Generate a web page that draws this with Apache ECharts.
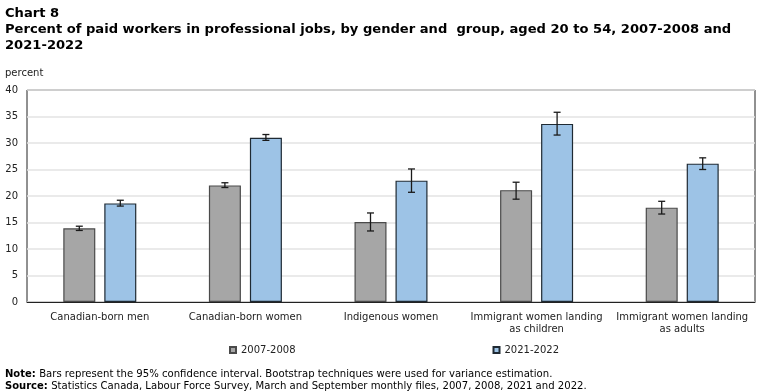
<!DOCTYPE html>
<html><head><meta charset="utf-8">
<script src="https://cdn.jsdelivr.net/npm/echarts@6/dist/echarts.min.js"></script>
<style>html,body{margin:0;padding:0;background:#fff}#c{width:768px;height:392px}</style>
</head><body><div id="c"></div>
<script>
const categories = ['Canadian-born men', 'Canadian-born women', 'Indigenous women', 'Immigrant women landing\nas children', 'Immigrant women landing\nas adults'];
const seriesNames = ['2007-2008', '2021-2022'];
const values2007 = [13.9, 22.0, 15.1, 21.1, 17.8];
const low2007 = [13.5, 21.6, 13.4, 19.4, 16.6];
const high2007 = [14.3, 22.5, 16.8, 22.6, 19.0];
const values2021 = [18.6, 31.0, 22.9, 33.6, 26.1];
const low2021 = [18.1, 30.5, 20.7, 31.5, 25.0];
const high2021 = [19.2, 31.6, 25.1, 35.8, 27.2];
const yTicks = [0, 5, 10, 15, 20, 25, 30, 35, 40];

const chart = echarts.init(document.getElementById('c'), null, {renderer: 'canvas'});
const FONT = 'DejaVu Sans';
const BAR_W = 32, GAP = 9;
const offset = (BAR_W + GAP) / 2;

function errorSeries(name, lows, highs, dir) {
  return {
    type: 'custom', name: name + ' CI', silent: true, z: 10,
    data: lows.map((l, i) => [i, l, highs[i]]),
    renderItem: function (params, api) {
      const i = api.value(0);
      const pLo = api.coord([i, api.value(1)]);
      const pHi = api.coord([i, api.value(2)]);
      const x = pLo[0] + dir * offset;
      const cap = 3.5;
      const st = {stroke: '#1a1a1a', lineWidth: 1.3};
      return {type: 'group', children: [
        {type: 'line', shape: {x1: x, y1: pLo[1], x2: x, y2: pHi[1]}, style: st},
        {type: 'line', shape: {x1: x - cap, y1: pLo[1], x2: x + cap, y2: pLo[1]}, style: st},
        {type: 'line', shape: {x1: x - cap, y1: pHi[1], x2: x + cap, y2: pHi[1]}, style: st}
      ]};
    }
  };
}

chart.setOption({
  animation: false,
  textStyle: {fontFamily: FONT},
  title: {
    text: 'Chart 8\nPercent of paid workers in professional jobs, by gender and  group, aged 20 to 54, 2007-2008 and\n2021-2022',
    left: 5, top: 6, padding: 0,
    textStyle: {fontFamily: FONT, fontSize: 13.1, fontWeight: 'bold', lineHeight: 16, color: '#000'}
  },
  legend: {
    data: seriesNames, top: 345, left: 229, padding: 0, itemGap: 197, itemWidth: 6, itemHeight: 6,
    icon: 'rect',
    textStyle: {fontFamily: FONT, fontSize: 10, color: '#222'}
  },
  grid: {left: 27, right: 13, top: 90, bottom: 90, show: true, borderColor: '#222', borderWidth: 1, containLabel: false},
  xAxis: {
    type: 'category', data: categories,
    axisLine: {lineStyle: {color: '#222'}}, axisTick: {show: false},
    axisLabel: {fontFamily: FONT, fontSize: 10, color: '#222', margin: 9, lineHeight: 12, interval: 0}
  },
  yAxis: {
    type: 'value', min: 0, max: 40, interval: 5,
    name: 'percent', nameLocation: 'end', nameGap: 12,
    nameTextStyle: {fontFamily: FONT, fontSize: 10, color: '#222', align: 'left', padding: [0, 0, 0, -22]},
    axisLine: {show: false}, axisTick: {show: false},
    splitLine: {lineStyle: {color: '#e3e3e3', width: 1.5}},
    axisLabel: {fontFamily: FONT, fontSize: 10, color: '#222', margin: 9,
      customValues: yTicks}
  },
  series: [
    {name: seriesNames[0], type: 'bar', data: values2007, barWidth: BAR_W, barGap: (GAP / BAR_W * 100) + '%',
      itemStyle: {color: '#a6a6a6', borderColor: '#4a4a4a', borderWidth: 1.2}},
    {name: seriesNames[1], type: 'bar', data: values2021, barWidth: BAR_W,
      itemStyle: {color: '#9dc3e6', borderColor: '#1f2a33', borderWidth: 1.2}},
    errorSeries(seriesNames[0], low2007, high2007, -1),
    errorSeries(seriesNames[1], low2021, high2021, 1)
  ],
  graphic: [
    {type: 'text', left: 5, top: 368, style: {
      rich: {b: {fontFamily: FONT, fontSize: 10, fontWeight: 'bold', fill: '#000'}, n: {fontFamily: FONT, fontSize: 10.1, fill: '#000'}},
      text: '{b|Note:} {n|Bars represent the 95% confidence interval. Bootstrap techniques were used for variance estimation.}'
    }},
    {type: 'text', left: 5, top: 380, style: {
      rich: {b: {fontFamily: FONT, fontSize: 10, fontWeight: 'bold', fill: '#000'}, n: {fontFamily: FONT, fontSize: 10.1, fill: '#000'}},
      text: '{b|Source:} {n|Statistics Canada, Labour Force Survey, March and September monthly files, 2007, 2008, 2021 and 2022.}'
    }}
  ]
});
</script></body></html>
